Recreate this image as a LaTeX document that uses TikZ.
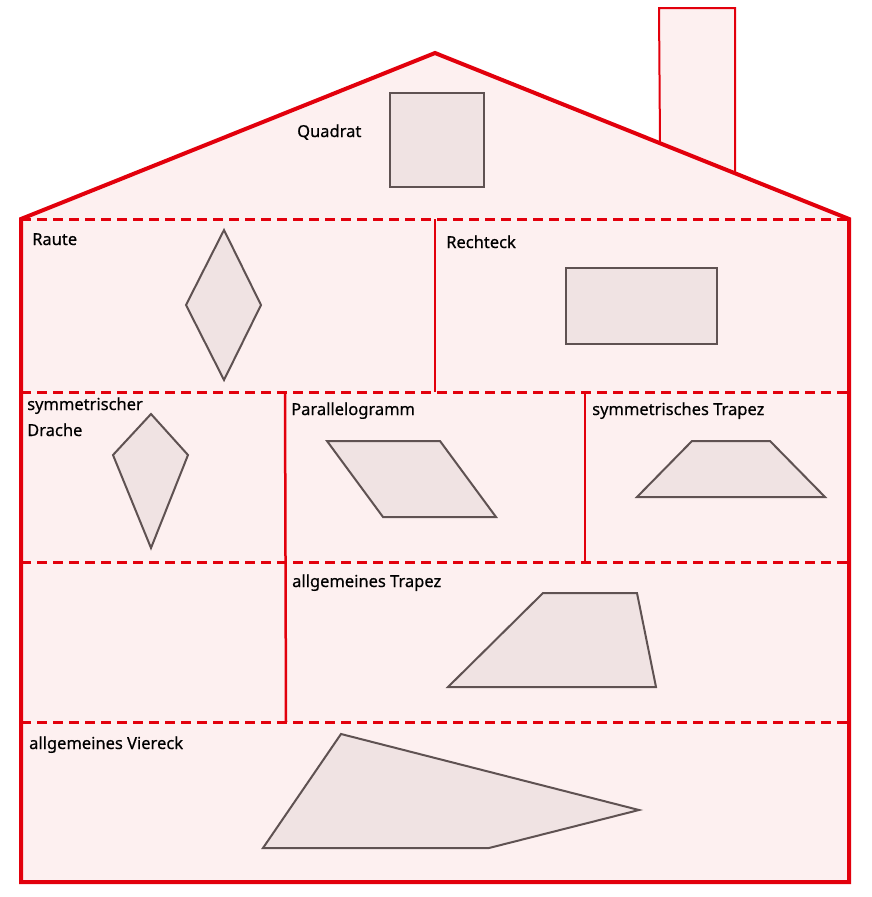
\documentclass[tikz,border=0pt]{standalone}
\usepackage{fontspec}
\setmainfont[FakeBold=0.5]{Noto Sans}
\usetikzlibrary{positioning}

\definecolor{housered}{RGB}{226,0,12}
\definecolor{housepink}{RGB}{253,240,240}
\definecolor{shapefill}{RGB}{240,227,227}
\definecolor{shapeline}{RGB}{95,82,82}

\tikzset{
  wall/.style={housered, line width=4pt, line join=miter},
  floor/.style={housered, line width=3pt, dash pattern=on 10pt off 6pt},
  divider/.style={housered, line width=2.5pt},
  figure/.style={draw=shapeline, fill=shapefill, line width=2pt, line join=miter},
  label/.style={anchor=base west, inner sep=0pt, font=\fontsize{16.5}{19}\selectfont\bfseries}
}

\begin{document}
\begin{tikzpicture}[x=1pt, y=-1pt]
\useasboundingbox (0,0) rectangle (871,897);
% chimney
\draw[housered, fill=housepink, line width=2pt] (660,144) -- (659,8) -- (735,8) -- (735,173) -- cycle;
% house
\draw[wall, fill=housepink] (21,219) -- (435,53) -- (849,219) -- (849,882) -- (21,882) -- cycle;
% floors
\draw[floor] (21,219) -- (849,219);
\draw[floor] (21,392) -- (849,392);
\draw[floor] (21,562) -- (849,562);
\draw[floor] (21,722) -- (849,722);
% rooms
\draw[divider] (435,219) -- (435,392);
\draw[divider] (285,392) -- (286,722);
\draw[divider] (585,392) -- (585,562);

% quadrilaterals
\draw[figure] (390,93) rectangle (484,187);
\draw[figure] (224,230) -- (261,305) -- (224,380) -- (186,305) -- cycle;
\draw[figure] (566,268) rectangle (717,344);
\draw[figure] (151,414) -- (188,455) -- (151,548) -- (113,455) -- cycle;
\draw[figure] (327,441) -- (440,441) -- (496,517) -- (383,517) -- cycle;
\draw[figure] (692,441) -- (770,441) -- (825,497) -- (637,497) -- cycle;
\draw[figure] (543,593) -- (637,593) -- (656,687) -- (448,687) -- cycle;
\draw[figure] (341,734) -- (639,810) -- (489,848) -- (263,848) -- cycle;

% names
\node[label] (quadrat) at (297,137) {Quadrat};
\node[label] (raute) at (32,245) {Raute};
\node[label] (rechteck) at (446,248) {Rechteck};
\node[label] (drache1) at (27,410) {symmetrischer};
\node[label] (drache2) at (27,436) {Drache};
\node[label] (parallelo) at (291,415) {Parallelogramm};
\node[label] (symtrapez) at (592,415) {symmetrisches Trapez};
\node[label] (trapez) at (292,587) {allgemeines Trapez};
\node[label] (viereck) at (29,749) {allgemeines Viereck};
\end{tikzpicture}
\end{document}
